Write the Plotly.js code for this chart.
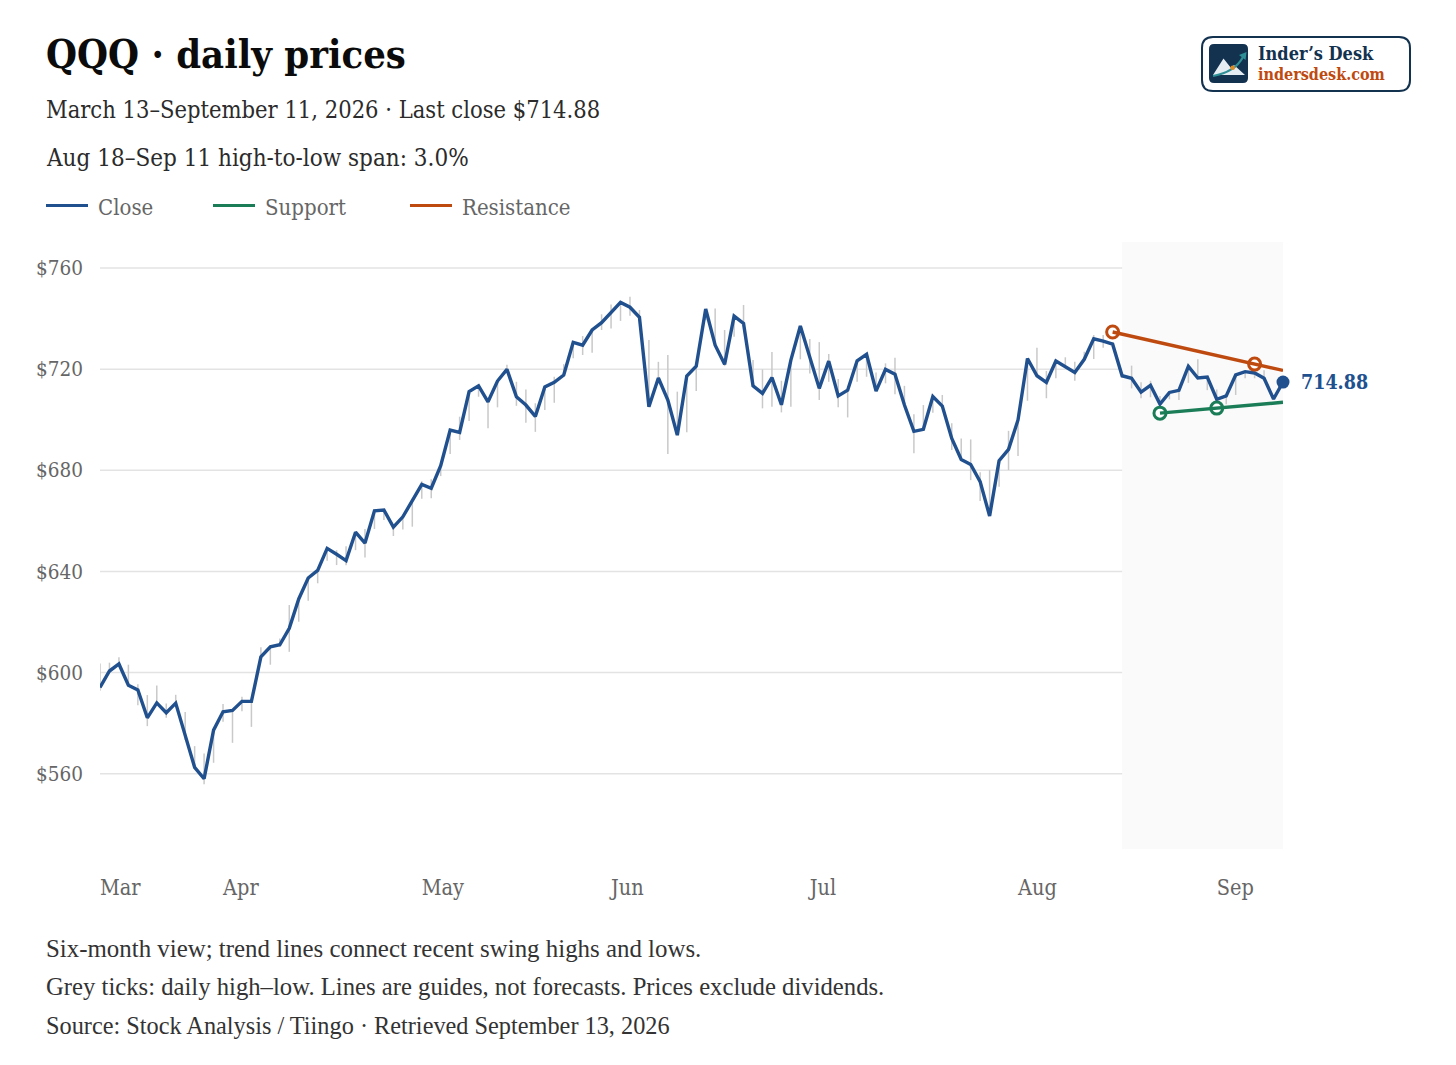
<!DOCTYPE html>
<html><head><meta charset="utf-8">
<script src="https://cdn.plot.ly/plotly-3.0.1.min.js"></script>
<style>html,body{margin:0;padding:0;background:#fff}#chart{width:1456px;height:1065px}</style>
</head><body><div id="chart"></div>
<script>
const dates = ["2026-03-13","2026-03-16","2026-03-17","2026-03-18","2026-03-19","2026-03-20","2026-03-23","2026-03-24","2026-03-25","2026-03-26","2026-03-27","2026-03-30","2026-03-31","2026-04-01","2026-04-02","2026-04-06","2026-04-07","2026-04-08","2026-04-09","2026-04-10","2026-04-13","2026-04-14","2026-04-15","2026-04-16","2026-04-17","2026-04-20","2026-04-21","2026-04-22","2026-04-23","2026-04-24","2026-04-27","2026-04-28","2026-04-29","2026-04-30","2026-05-01","2026-05-04","2026-05-05","2026-05-06","2026-05-07","2026-05-08","2026-05-11","2026-05-12","2026-05-13","2026-05-14","2026-05-15","2026-05-18","2026-05-19","2026-05-20","2026-05-21","2026-05-22","2026-05-26","2026-05-27","2026-05-28","2026-05-29","2026-06-01","2026-06-02","2026-06-03","2026-06-04","2026-06-05","2026-06-08","2026-06-09","2026-06-10","2026-06-11","2026-06-12","2026-06-15","2026-06-16","2026-06-17","2026-06-18","2026-06-22","2026-06-23","2026-06-24","2026-06-25","2026-06-26","2026-06-29","2026-06-30","2026-07-01","2026-07-02","2026-07-06","2026-07-07","2026-07-08","2026-07-09","2026-07-10","2026-07-13","2026-07-14","2026-07-15","2026-07-16","2026-07-17","2026-07-20","2026-07-21","2026-07-22","2026-07-23","2026-07-24","2026-07-27","2026-07-28","2026-07-29","2026-07-30","2026-07-31","2026-08-03","2026-08-04","2026-08-05","2026-08-06","2026-08-07","2026-08-10","2026-08-11","2026-08-12","2026-08-13","2026-08-14","2026-08-17","2026-08-18","2026-08-19","2026-08-20","2026-08-21","2026-08-24","2026-08-25","2026-08-26","2026-08-27","2026-08-28","2026-08-31","2026-09-01","2026-09-02","2026-09-03","2026-09-04","2026-09-08","2026-09-09","2026-09-10","2026-09-11"];
const close = [594.1,600.6,603.4,595.0,593.1,582.1,588,584.1,587.9,574.6,562.5,558,577.2,584.5,585,588.6,588.6,606.2,610.2,611,617.5,629.1,637.4,640.4,649.1,646.8,644.3,655.5,651.2,664,664.3,657.5,661.6,668,674.4,672.9,681.8,695.9,695,711.1,713.4,707.1,715.3,719.9,709.1,705.8,701.3,713,714.8,717.7,730.6,729.5,735.5,738.4,742.5,746.4,744.5,740.5,705.1,716.5,707.8,693.9,717.3,721.2,743.8,729.5,721.9,741,738.1,713.4,710.4,716.7,705.9,723.6,737.1,724.9,712.4,723.2,709.4,711.7,723.3,725.9,711.3,719.9,718,705.8,695.4,696.2,709.2,705.4,692.6,684.3,682.3,675.5,661.9,683.8,688.3,699.9,724.2,717.4,714.8,723.2,721,718.7,723.9,732,731.1,729.9,717.4,716.4,710.9,713.6,706.2,710.8,711.6,721.1,716.5,716.9,708.1,709.4,717.7,719,718.5,716.4,708.2,714.88];
const high = [603.6,603.9,606,603.1,595.4,591.1,594.9,587.8,591.2,584.4,570.9,568,577.2,587.6,585,590.4,588.6,610,610.2,613.5,626.7,629.5,637.4,640.5,649.2,648.4,650,655.4,656.8,664,664.3,657.5,661.6,668.2,675.7,676.5,681.8,695.9,701.2,711.1,713.4,707.1,715.3,721.7,715,712,706.5,713,717,722,730.6,733.1,735.5,741.7,745.6,746.4,748.6,743.4,731.5,722.9,725.6,711.1,717.3,721.2,743.8,744,735.5,741,745.4,723.6,719.9,726.8,715.4,723.6,737.2,731.9,730.7,726,716.1,711.7,723.3,725.9,718.7,722.3,724.5,713.4,702.2,705.8,709.2,709.8,698.6,692.6,692.2,679.2,680.1,683.8,695.6,699.2,724.3,728.5,719.3,723.2,724.7,722.9,726.9,733.5,733.5,730.7,717.4,721.4,714.8,715.4,709.4,710.8,711.6,720.9,723.9,716.9,712,709.4,717.7,719,722.4,719.6,708.2,714.9];
const low = [592.8,599.8,602.9,594.8,587.1,578.8,587.1,582.1,587.1,573.3,562.1,555.8,564.3,580.5,572.2,584.7,578.5,606.2,603.1,610.2,608.2,620.1,628.4,635.3,644.2,642.5,642.4,648.4,645.5,656.8,660.3,654,656.6,657.7,668.7,668.9,677.7,686.4,692,699.5,709.1,696.6,704.9,719,705.5,698.8,695.2,703.8,706.7,717,724.3,725.6,726.5,735.5,736.1,739.1,741.1,740.1,705.1,714.4,686.4,693.9,695,711.4,739.4,729.5,721.2,732.8,738.1,713.4,704.5,705.1,702.9,705.1,723.9,718.3,707.8,715,704.9,700.9,715,717,711.3,714.4,710.1,705.8,686.7,696.2,702.8,705.4,688,684.3,676.1,667.9,661.9,673.5,680.1,685.7,707.5,717.4,708.5,716.4,720.4,715.4,723.9,724,728.5,729.1,716.5,712.4,708.5,708.9,705.8,708.1,707.8,714.6,716.5,711.7,707.8,706.1,709.8,716.4,716.4,715.7,707.8,713.7];
const resistanceDates = ["2026-08-17","2026-09-08","2026-09-11"];
const resistanceValues = [734.7,722,719.5];
const supportDates = ["2026-08-24","2026-09-01","2026-09-11"];
const supportValues = [702.6,704.6,706.9];
const monthTicks = ["2026-03-13","2026-04-01","2026-05-01","2026-06-01","2026-07-01","2026-08-03","2026-09-01"];
const monthLabels = ["Mar","Apr","May","Jun","Jul","Aug","Sep"];
const priceTicks = [560,600,640,680,720,760];
const priceLabels = ["$560","$600","$640","$680","$720","$760"];
const shadeStart = "2026-08-18";
const lastDate = dates[dates.length-1];
const lastClose = close[close.length-1];

const BLUE="#21508f", GREEN="#1a7d58", ORANGE="#bf4a10", NAVY="#12324f", TEAL="#2f8f96";
const SLAB="'DejaVu Serif Condensed','DejaVu Serif',serif";
const BODY="'Liberation Serif',serif";
const px=x=>(x-100)/1183, py=y=>(849-y)/607;
const P=(x,y)=>`${px(x)} ${py(y)}`;

const hlX=[],hlY=[];
dates.forEach((d,i)=>{hlX.push(d,d,null);hlY.push(high[i],low[i],null);});

const traces=[
 {x:hlX,y:hlY,mode:'lines',line:{color:'#c9c9c9',width:1.5},showlegend:false,hoverinfo:'skip',name:'High–low'},
 {x:dates,y:close,mode:'lines',name:'Close',line:{color:BLUE,width:3.4,join:'miter'}},
 {x:supportDates.slice(0,2),y:supportValues.slice(0,2),mode:'markers',showlegend:false,cliponaxis:false,
  marker:{size:12,color:'#ffffff',line:{color:GREEN,width:3}}},
 {x:resistanceDates.slice(0,2),y:resistanceValues.slice(0,2),mode:'markers',showlegend:false,cliponaxis:false,
  marker:{size:12,color:'#ffffff',line:{color:ORANGE,width:3}}},
 {x:supportDates,y:supportValues,mode:'lines',name:'Support',line:{color:GREEN,width:3.4},cliponaxis:false},
 {x:resistanceDates,y:resistanceValues,mode:'lines',name:'Resistance',line:{color:ORANGE,width:3.4},cliponaxis:false},
 {x:[lastDate],y:[lastClose],mode:'markers',showlegend:false,cliponaxis:false,marker:{size:13,color:BLUE}}
];

function note(text,x,y,size,color,family){
  return {xref:'paper',yref:'paper',x:px(x),y:py(y),text,showarrow:false,xanchor:'left',yanchor:'middle',
    borderpad:0,borderwidth:0,font:{family:family||SLAB,size,color}};
}
function legendKey(x0,color){
  return {type:'line',xref:'paper',yref:'paper',x0:px(x0),x1:px(x0+42),y0:py(205.5),y1:py(205.5),line:{color,width:3}};
}
const gridShapes=priceTicks.map(v=>({type:'line',layer:'below',xref:'x',yref:'y',x0:dates[0],x1:shadeStart,y0:v,y1:v,line:{color:'#e3e3e3',width:1.5}}));

const layout={
 width:1456,height:1065,paper_bgcolor:'#fff',plot_bgcolor:'#fff',
 margin:{l:100,r:173,t:242,b:216},
 title:{text:'<b>QQQ · daily prices</b>',x:46/1456,xanchor:'left',xref:'container',y:1-54/1065,yanchor:'middle',yref:'container',
   font:{family:SLAB,size:39.6,color:'#0b0b0b'}},
 showlegend:false,
 xaxis:{type:'category',range:[0,dates.length-1],tickmode:'array',tickvals:monthTicks,ticktext:monthLabels,ticks:'',showgrid:false,zeroline:false,showline:false,
   ticklabelposition:'outside right',ticklabelstandoff:23,tickangle:0,automargin:false,tickfont:{family:SLAB,size:21.5,color:'#666'}},
 yaxis:{range:[530.2,770.3],tickmode:'array',tickvals:priceTicks,ticktext:priceLabels,ticks:'',showgrid:false,zeroline:false,showline:false,
   ticklabelstandoff:16,automargin:false,tickfont:{family:SLAB,size:20.5,color:'#666'}},
 shapes:[
  ...gridShapes,
  {type:'rect',layer:'below',xref:'x',yref:'paper',x0:shadeStart,x1:lastDate,y0:0,y1:1,fillcolor:'#fafafa',line:{width:0}},
  legendKey(46,BLUE),legendKey(213,GREEN),legendKey(410,ORANGE),
  {type:'path',xref:'paper',yref:'paper',line:{color:NAVY,width:2},fillcolor:'#fff',
   path:`M ${P(1213,37)} L ${P(1399,37)} Q ${P(1410,37)} ${P(1410,48)} L ${P(1410,80)} Q ${P(1410,91)} ${P(1399,91)} L ${P(1213,91)} Q ${P(1202,91)} ${P(1202,80)} L ${P(1202,48)} Q ${P(1202,37)} ${P(1213,37)} Z`},
  {type:'path',xref:'paper',yref:'paper',line:{width:0},fillcolor:NAVY,
   path:`M ${P(1214,44)} L ${P(1243,44)} Q ${P(1248,44)} ${P(1248,49)} L ${P(1248,78)} Q ${P(1248,83)} ${P(1243,83)} L ${P(1214,83)} Q ${P(1209,83)} ${P(1209,78)} L ${P(1209,49)} Q ${P(1209,44)} ${P(1214,44)} Z`},
  {type:'path',xref:'paper',yref:'paper',line:{width:0},fillcolor:'#e6edf2',
   path:`M ${P(1213,75)} L ${P(1223.5,58.5)} L ${P(1231,68)} L ${P(1234,65)} L ${P(1245,75)} Z`},
  {type:'path',xref:'paper',yref:'paper',line:{color:TEAL,width:2.2},
   path:`M ${P(1213,76)} Q ${P(1235,72)} ${P(1243,57)}`},
  {type:'path',xref:'paper',yref:'paper',line:{width:0},fillcolor:TEAL,
   path:`M ${P(1239,55)} L ${P(1246.5,52)} L ${P(1245.5,60)} Z`},
  {type:'circle',xref:'paper',yref:'paper',x0:px(1230.4),x1:px(1235),y0:py(70),y1:py(65.4),line:{width:0},fillcolor:'#e08a1e'}
 ],
 annotations:[
  note('March 13–September 11, 2026 · Last close $714.88',46,110,23.5,'#2b2b2b'),
  note('Aug 18–Sep 11 high-to-low span: 3.0%',46,158,24,'#2b2b2b'),
  note('Close',98,207,22,'#666'),
  note('Support',265,207,22,'#666'),
  note('Resistance',462,207,22,'#666'),
  note('Six-month view; trend lines connect recent swing highs and lows.',46,948,24.9,'#333',BODY),
  note('Grey ticks: daily high–low. Lines are guides, not forecasts. Prices exclude dividends.',46,986,24.7,'#333',BODY),
  note('Source: Stock Analysis / Tiingo · Retrieved September 13, 2026',46,1025,24.3,'#333',BODY),
  note('<b>Inder’s Desk</b>',1258,54,18,NAVY),
  note('<b>indersdesk.com</b>',1258,74,16,ORANGE),
  {xref:'x',yref:'y',x:lastDate,y:lastClose,text:'<b>'+lastClose.toFixed(2)+'</b>',showarrow:false,xanchor:'left',yanchor:'middle',xshift:17,borderpad:0,font:{family:SLAB,size:19.5,color:BLUE}}
 ]
};
Plotly.newPlot('chart',traces,layout,{displayModeBar:false,responsive:false});
</script></body></html>
